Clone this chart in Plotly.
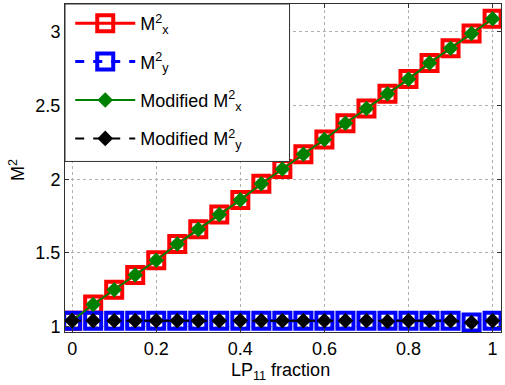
import plotly.graph_objects as go

lp11 = [0, 0.05, 0.1, 0.15, 0.2, 0.25, 0.3, 0.35, 0.4, 0.45, 0.5,
        0.55, 0.6, 0.65, 0.7, 0.75, 0.8, 0.85, 0.9, 0.95, 1.0]
mx2 = [1.04, 1.15, 1.25, 1.35, 1.45, 1.56, 1.66, 1.76, 1.86, 1.97, 2.07,
       2.17, 2.27, 2.38, 2.48, 2.58, 2.68, 2.79, 2.89, 2.99, 3.09]
my2 = [1.04, 1.04, 1.04, 1.04, 1.04, 1.04, 1.04, 1.04, 1.04, 1.04, 1.04,
       1.04, 1.04, 1.04, 1.04, 1.04, 1.04, 1.04, 1.04, 1.027, 1.04]
mod_mx2 = [1.04, 1.15, 1.25, 1.35, 1.45, 1.56, 1.66, 1.76, 1.86, 1.97, 2.07,
           2.17, 2.27, 2.38, 2.48, 2.58, 2.68, 2.79, 2.89, 2.99, 3.09]
mod_my2 = [1.04, 1.04, 1.04, 1.04, 1.04, 1.04, 1.04, 1.04, 1.04, 1.04, 1.04,
           1.04, 1.04, 1.04, 1.04, 1.035, 1.04, 1.04, 1.04, 1.027, 1.04]

xticks = [0, 0.2, 0.4, 0.6, 0.8, 1]
xticklabels = ["0", "0.2", "0.4", "0.6", "0.8", "1"]
yticks = [1, 1.5, 2, 2.5, 3]
yticklabels = ["1", "1.5", "2", "2.5", "3"]

font = "Liberation Sans, Arial, sans-serif"

fig = go.Figure()
fig.add_trace(go.Scatter(
    x=lp11, y=mx2, mode="lines+markers", name="M<sup>2</sup><sub>x</sub>",
    line=dict(color="#ff0000", width=3),
    marker=dict(symbol="square-open", size=16, color="#ff0000", line=dict(width=4, color="#ff0000")),
    legendgroup="a"))
fig.add_trace(go.Scatter(
    x=lp11, y=my2, mode="lines+markers", name="M<sup>2</sup><sub>y</sub>",
    line=dict(color="#0000ff", width=3, dash="dash"),
    marker=dict(symbol="square-open", size=16, color="#0000ff", line=dict(width=4, color="#0000ff")),
    legendgroup="b"))
fig.add_trace(go.Scatter(
    x=lp11, y=mod_mx2, mode="lines+markers", name="Modified M<sup>2</sup><sub>x</sub>",
    line=dict(color="#008000", width=2),
    marker=dict(symbol="diamond", size=12, color="#008000"),
    legendgroup="c"))
fig.add_trace(go.Scatter(
    x=lp11, y=mod_my2, mode="lines+markers", name="Modified M<sup>2</sup><sub>y</sub>",
    line=dict(color="#000000", width=2, dash="dash"),
    marker=dict(symbol="diamond", size=12, color="#000000"),
    legendgroup="d"))

axis_common = dict(
    showgrid=True, gridcolor="#b0b0b0", griddash="dot", gridwidth=1,
    zeroline=False, showline=True, linecolor="#303030", linewidth=1, mirror="ticks",
    ticks="inside", ticklen=4, tickcolor="#303030", automargin=False,
    tickfont=dict(family=font, size=18, color="black"),
)

fig.update_layout(
    width=505, height=385,
    margin=dict(l=65, r=4, t=4, b=53, autoexpand=False),
    paper_bgcolor="white", plot_bgcolor="white",
    font=dict(family=font, size=18, color="black"),
    showlegend=True,
    legend=dict(x=0.012, y=0.997, xanchor="left", yanchor="top",
                bgcolor="rgba(0,0,0,0)", borderwidth=0,
                font=dict(family=font, size=18, color="black"),
                tracegroupgap=12, itemwidth=60),
    xaxis=dict(range=[-0.017, 1.02], tickvals=xticks, ticktext=xticklabels, **axis_common),
    yaxis=dict(range=[0.963, 3.19], tickvals=yticks, ticktext=yticklabels, **axis_common),
    shapes=[dict(type="rect", xref="paper", yref="paper", x0=0, x1=0.515, y0=0.52, y1=1,
                 fillcolor="white", line=dict(color="#303030", width=1), layer="above")],
    annotations=[
        dict(text="M<sup>2</sup>", xref="paper", yref="paper", x=-0.108, y=0.494,
             textangle=-90, showarrow=False, font=dict(family=font, size=18),
             xanchor="center", yanchor="middle"),
        dict(text="LP<sub>11</sub> fraction", xref="paper", yref="paper", x=0.495, y=-0.08,
             showarrow=False, font=dict(family=font, size=18),
             xanchor="center", yanchor="top"),
    ],
)

fig.write_html("out.html", config={"displayModeBar": False},
               post_script="document.body.style.margin='0';document.body.style.overflow='hidden';")
